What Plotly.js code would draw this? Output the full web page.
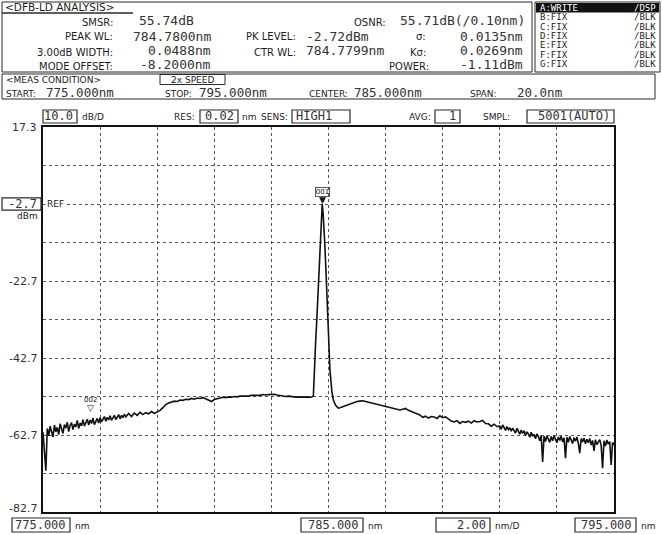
<!DOCTYPE html>
<html><head><meta charset="utf-8">
<script src="https://cdn.plot.ly/plotly-3.0.1.min.js"></script>
<style>html,body{margin:0;padding:0;background:#fff;}#chart{width:662px;height:534px;}</style>
</head><body><div id="chart"></div>
<script>
// ---------------- data ----------------
const wavelengthNm = [
 775.00,775.05,775.10,775.15,775.20,775.25,775.30,775.35,775.40,775.45,
 775.50,775.55,775.60,775.65,775.70,775.75,775.80,775.85,775.90,775.95,
 776.00,776.05,776.10,776.15,776.20,776.25,776.30,776.35,776.40,776.45,
 776.50,776.55,776.60,776.65,776.70,776.75,776.80,776.85,776.90,776.95,
 777.00,777.05,777.10,777.15,777.20,777.25,777.30,777.35,777.40,777.45,
 777.50,777.55,777.60,777.65,777.70,777.75,777.80,777.85,777.90,777.95,
 778.0,778.1,778.2,778.3,778.4,778.5,778.6,778.7,778.8,778.9,
 779.0,779.1,779.2,779.3,779.4,779.5,779.6,779.7,779.8,779.9,
 780.0,780.1,780.2,780.3,780.4,780.5,780.6,780.7,780.8,780.9,
 781.0,781.1,781.2,781.3,781.4,781.5,781.6,781.7,781.8,781.9,
 782.0,782.1,782.2,782.3,782.4,782.5,782.6,782.7,782.8,782.9,
 783.0,783.1,783.2,783.3,783.4,783.5,783.6,783.7,783.8,783.9,
 784.0,784.1,784.2,784.3,784.4,
 784.47,784.5,784.55,784.59,784.64,784.68,784.72,784.75,784.78,784.81,
 784.83,784.87,784.91,784.97,785.05,785.12,785.17,785.25,785.34,
 785.4,785.5,785.6,785.7,785.8,785.9,
 786.0,786.1,786.2,786.3,786.4,786.5,786.6,786.7,786.8,786.9,
 787.0,787.1,787.2,787.3,787.4,787.5,787.6,787.7,787.8,787.9,
 788.0,788.1,788.2,788.3,788.4,788.5,788.6,788.7,788.8,788.9,
 789.0,789.1,789.2,789.3,789.4,789.5,789.6,789.7,789.8,789.9,
 790.0,790.1,790.2,790.3,790.4,790.5,790.6,790.7,790.8,790.9,
 791.00,791.05,791.10,791.15,791.20,791.25,791.30,791.35,791.40,791.45,
 791.50,791.55,791.60,791.65,791.70,791.75,791.80,791.85,791.90,791.95,
 792.00,792.05,792.10,792.15,792.20,792.25,792.30,792.35,792.40,792.45,
 792.50,792.55,792.60,792.65,792.70,792.75,792.80,792.85,792.90,792.95,
 793.00,793.05,793.10,793.15,793.20,793.25,793.30,793.35,793.40,793.45,
 793.50,793.55,793.60,793.65,793.70,793.75,793.80,793.85,793.90,793.95,
 794.00,794.05,794.10,794.15,794.20,794.25,794.30,794.35,794.40,794.45,
 794.50,794.55,794.60,794.65,794.70,794.75,794.80,794.85,794.90,794.95,795.00
];
const levelDbm = [
 -62.0,-66.8,-72.0,-61.0,-62.9,-60.4,-61.6,-63.2,-60.1,-61.9,
 -60.7,-62.6,-59.8,-61.2,-62.3,-60.0,-60.9,-59.4,-61.8,-60.2,
 -59.5,-61.3,-59.9,-60.6,-58.9,-61.0,-59.6,-60.3,-58.7,-60.4,
 -59.2,-58.6,-60.1,-58.8,-59.7,-58.3,-60.0,-58.9,-58.4,-59.6,
 -58.2,-59.3,-58.7,-57.9,-59.1,-58.1,-58.8,-57.7,-58.9,-58.2,
 -57.6,-58.7,-57.9,-57.4,-58.5,-57.6,-58.2,-57.3,-58.0,-57.5,
 -57.1,-57.9,-57.0,-57.6,-56.8,-57.4,-56.9,-57.2,-56.6,-57.1,
 -56.8,-56.3,-55.6,-54.8,-54.4,-54.1,-53.9,-54.0,-53.6,-53.7,
 -53.4,-53.5,-53.2,-53.4,-53.1,-53.2,-53.0,-53.3,-53.6,-54.0,
 -53.5,-53.2,-53.1,-52.9,-53.0,-52.8,-52.9,-52.7,-52.8,-52.6,
 -52.6,-52.5,-52.6,-52.4,-52.4,-52.3,-52.4,-52.2,-52.3,-52.2,
 -52.2,-52.1,-52.3,-52.5,-52.5,-52.7,-52.6,-52.8,-52.8,-52.9,
 -52.8,-52.9,-52.8,-52.9,-52.9,
 -52.6,-46.0,-38.5,-32.8,-25.5,-19.8,-12.5,-6.9,-2.72,-5.0,
 -6.9,-13.0,-19.8,-32.8,-45.8,-51.5,-53.6,-55.0,-55.7,
 -55.6,-55.3,-55.0,-54.7,-54.4,-54.2,
 -54.0,-53.9,-53.8,-54.0,-54.2,-54.4,-54.6,-54.8,-55.0,-55.1,
 -55.4,-55.5,-55.7,-55.9,-56.0,-56.2,-56.0,-55.8,-56.3,-56.6,
 -56.9,-57.4,-57.5,-58.1,-57.8,-58.3,-57.9,-58.0,-58.4,-57.7,
 -58.2,-58.0,-58.6,-59.1,-59.3,-59.0,-59.7,-59.2,-59.4,-59.1,
 -59.6,-59.0,-59.3,-59.2,-58.9,-59.7,-59.8,-60.4,-59.9,-60.5,
 -60.4,-61.2,-60.1,-60.9,-61.5,-60.5,-61.3,-60.8,-61.7,-60.9,
 -61.4,-62.2,-61.0,-61.9,-62.5,-61.4,-62.3,-61.6,-62.8,-61.9,
 -62.4,-63.3,-62.0,-63.0,-62.5,-63.7,-62.4,-63.1,-64.2,-62.8,
 -69.7,-63.0,-64.4,-62.9,-63.8,-64.6,-63.1,-64.2,-62.9,-63.9,
 -64.7,-63.2,-64.1,-63.0,-64.5,-63.4,-68.7,-63.3,-64.6,-63.1,
 -64.0,-64.9,-63.4,-64.3,-63.2,-64.8,-67.4,-63.6,-64.5,-63.5,
 -65.0,-63.8,-64.7,-63.6,-65.3,-64.1,-66.8,-63.9,-65.2,-64.3,
 -63.9,-65.4,-71.3,-64.2,-65.6,-64.0,-65.1,-64.4,-70.5,-64.6,-65.3
];
const markerNames = ['001', '002'];
const markerWl = [784.78, 776.65];
const markerLvl = [-2.72, -58.8];

const yTickVals = [17.3, -2.7, -22.7, -42.7, -62.7, -82.7];
const yTickText = ['17.3', '-2.7', '-22.7', '-42.7', '-62.7', '-82.7'];
const xTickText = ['775.000', '785.000', '2.00', '795.000'];
const xTickUnits = ['nm', 'nm', 'nm/D', 'nm'];

const analysisLabels = ['SMSR:', 'PEAK WL:', '3.00dB WIDTH:', 'MODE OFFSET:', 'PK LEVEL:', 'CTR WL:', 'OSNR:', 'σ:', 'Kσ:', 'POWER:'];
const analysisValues = ['55.74dB', '784.7800nm', '0.0488nm', '-8.2000nm', '-2.72dBm', '784.7799nm', '55.71dB(/0.10nm)', '0.0135nm', '0.0269nm', '-1.11dBm'];
const traceNames = ['A:WRITE', 'B:FIX', 'C:FIX', 'D:FIX', 'E:FIX', 'F:FIX', 'G:FIX'];
const traceModes = ['/DSP', '/BLK', '/BLK', '/BLK', '/BLK', '/BLK', '/BLK'];
const measLabels = ['START:', 'STOP:', 'CENTER:', 'SPAN:'];
const measValues = ['775.000nm', '795.000nm', '785.000nm', '20.0nm'];
const setupLabels = ['RES:', 'SENS:', 'AVG:', 'SMPL:'];
const setupValues = ['0.02', 'HIGH1', '1', '5001(AUTO)'];

// ---------------- layout helpers ----------------
const W = 662, H = 534;
const X0 = 43, X1 = 614, Y0 = 127, Y1 = 512;
const px = x => (x - X0) / (X1 - X0);
const py = y => (Y1 - y) / (Y1 - Y0);
const LBL = 'DejaVu Sans, sans-serif';
const MONO = 'DejaVu Sans Mono, monospace';
const INK = '#1c1c1c';
const anns = [];
const shapes = [];
function T(text, x, y, size, family, xa, color) {
  anns.push({text: text, x: px(x), y: py(y), xref: 'paper', yref: 'paper', showarrow: false,
    xanchor: xa || 'left', yanchor: 'middle', font: {family: family || LBL, size: size || 9, color: color || INK}});
}
function R(x0, y0, x1, y1, fill, lw) {
  shapes.push({type: 'rect', xref: 'paper', yref: 'paper', x0: px(x0), x1: px(x1), y0: py(y1), y1: py(y0),
    line: {color: '#2a2a2a', width: lw === undefined ? 1 : lw}, fillcolor: fill || 'rgba(0,0,0,0)'});
}
function L(x0, y0, x1, y1, lw) {
  shapes.push({type: 'line', xref: 'paper', yref: 'paper', x0: px(x0), x1: px(x1), y0: py(y0), y1: py(y1),
    line: {color: '#2a2a2a', width: lw || 1}});
}

// ---- analysis panel ----
R(2, 2, 532, 72);
L(2, 13, 133, 13, 1.5);
T('&lt;DFB-LD ANALYSIS&gt;', 3, 7, 10.5, LBL);
const aPos = [
  [115, 22, 137, 'left'], [115, 37, 213, 'right'], [115, 52, 213, 'right'], [115, 66, 213, 'right'],
  [298, 37, 304, 'left'], [298, 52, 304, 'left'],
  [388, 22, 527, 'right'], [428, 37, 525, 'right'], [428, 52, 525, 'right'], [431, 66, 525, 'right']
];
analysisLabels.forEach((lab, i) => {
  const p = aPos[i];
  T(lab, p[0], p[1], 10, LBL, 'right');
  T(analysisValues[i], p[2], p[1] - 1, 13, MONO, p[3], '#333');
});

// ---- trace list ----
R(535, 2, 660, 72);
traceNames.forEach((n, i) => {
  const y = 8 + i * 9.3;
  if (i === 0) R(536, 3, 659, 12.5, '#111', 0);
  const c = i === 0 ? '#fff' : INK;
  T(n, 538, y, 9, MONO, 'left', c);
  T(traceModes[i], 658, y, 9, MONO, 'right', c);
});

// ---- meas condition ----
R(2, 74, 655, 99);
T('&lt;MEAS CONDITION&gt;', 4, 79.5, 9, LBL);
R(160, 74.5, 225, 84.5);
T('2x SPEED', 192, 79.5, 9, LBL, 'center');
const mPos = [[4, 44], [163, 197], [307, 352], [468, 515]];
measLabels.forEach((lab, i) => {
  T(lab, mPos[i][0], 93.5, 9, LBL);
  T(measValues[i], mPos[i][1], 92.5, 12.5, MONO, 'left', '#333');
});

// ---- setup row ----
R(43, 110, 77, 123, '#fff', 1.2);
T('10.0', 75, 116.5, 12, MONO, 'right', '#333');
T('dB/D', 80, 117, 9, LBL);
const sLab = [[197, 200, 238, 'right'], [290, 292, 350, 'left'], [433, 435, 460, 'right'], [512, 527, 614, 'right']];
setupLabels.forEach((lab, i) => {
  const s = sLab[i];
  T(lab, s[0], 117, 9, LBL, 'right');
  R(s[1], 110, s[2], 123, '#fff', 1.2);
  T(setupValues[i], s[3] === 'right' ? s[2] - 2 : s[1] + 2, 116.5, 12, MONO, s[3], '#333');
});
T('nm', 240, 117, 9, LBL);

// ---- y axis labels ----
yTickVals.forEach((v, i) => {
  const isRef = v === -2.7;
  if (isRef) {
    shapes.push({type: 'rect', xref: 'paper', yref: 'y', x0: px(2), x1: px(41), y0: v - 1.6, y1: v + 1.6,
      line: {color: '#2a2a2a', width: 1.2}, fillcolor: '#fff'});
  }
  anns.push({text: yTickText[i], xref: 'paper', x: px(39), yref: 'y', y: v, showarrow: false,
    xanchor: 'right', yanchor: 'middle', yshift: v === -82.7 ? 4 : 0,
    font: {family: isRef ? MONO : LBL, size: isRef ? 12 : 11, color: '#333'}});
});
anns.push({text: 'REF', xref: 'paper', x: px(45), yref: 'y', y: -2.7, showarrow: false, xanchor: 'left',
  yanchor: 'middle', font: {family: LBL, size: 9, color: INK}, bgcolor: '#fff'});
T('dBm', 40, 216, 9, LBL, 'right');

// ---- x axis labels ----
const xPos = [[12, 70], [301, 363], [436, 490], [575, 636]];
xTickText.forEach((t, i) => {
  R(xPos[i][0], 518, xPos[i][1], 532, '#fff', 1.2);
  T(t, xPos[i][1] - 2, 525, 12, MONO, 'right', '#333');
  T(xTickUnits[i], xPos[i][1] + 3, 526, 9, LBL);
});

// ---- markers ----
markerWl.forEach((wl, i) => {
  const filled = i === 0;
  anns.push({text: filled ? '▼' : '▽', x: wl, y: markerLvl[i], xref: 'x', yref: 'y', showarrow: false,
    xanchor: 'center', yanchor: 'bottom', yshift: filled ? -3 : 5, font: {family: LBL, size: 9, color: '#111'}});
  anns.push({text: markerNames[i], x: wl, y: markerLvl[i], xref: 'x', yref: 'y', showarrow: false,
    xanchor: 'center', yanchor: 'bottom', yshift: filled ? 7 : 16, font: {family: LBL, size: 7, color: '#111'},
    bordercolor: filled ? '#333' : 'rgba(0,0,0,0)', borderwidth: filled ? 0.8 : 0, borderpad: 0});
});

const trace = {
  x: wavelengthNm, y: levelDbm, type: 'scatter', mode: 'lines',
  line: {color: '#111', width: 1.6}, hoverinfo: 'skip'
};

const layout = {
  width: W, height: H,
  margin: {l: X0, r: W - X1, t: Y0, b: H - Y1, pad: 0},
  paper_bgcolor: '#fff', plot_bgcolor: '#fff',
  showlegend: false,
  xaxis: {range: [775, 795], tick0: 775, dtick: 2, showticklabels: false, ticks: '',
    showgrid: true, gridcolor: '#555', gridwidth: 1, griddash: 'dot', zeroline: false,
    showline: true, mirror: true, linecolor: '#111', linewidth: 2},
  yaxis: {range: [-82.7, 17.3], tick0: -82.7, dtick: 10, showticklabels: false, ticks: '',
    showgrid: true, gridcolor: '#555', gridwidth: 1, griddash: 'dot', zeroline: false,
    showline: true, mirror: true, linecolor: '#111', linewidth: 2},
  shapes: shapes,
  annotations: anns
};

Plotly.newPlot('chart', [trace], layout, {displayModeBar: false, staticPlot: true});
</script>
</body></html>
